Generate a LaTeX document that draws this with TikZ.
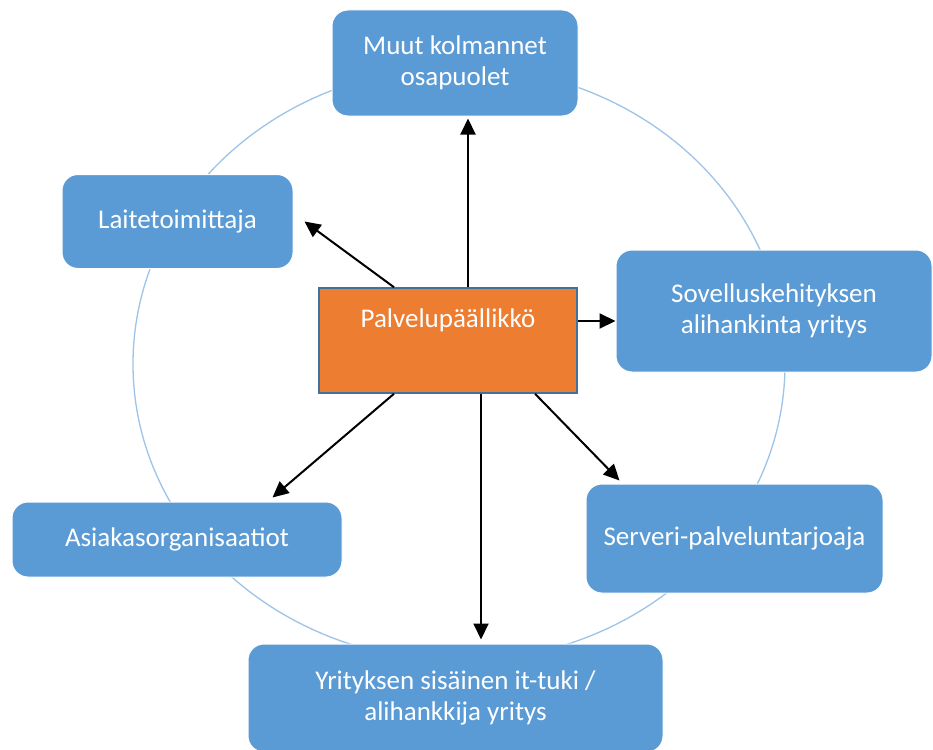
\documentclass[tikz,border=0pt]{standalone}
\usepackage{fontspec}
\setmainfont{Carlito}
\usetikzlibrary{arrows.meta,calc}
\definecolor{boxblue}{HTML}{5B9BD5}
\definecolor{ringblue}{HTML}{9DC3E6}
\definecolor{pmorange}{HTML}{ED7D31}
\definecolor{pmborder}{HTML}{41719C}
\begin{document}
\begin{tikzpicture}[x=1pt,y=-1pt,
  bluebox/.style={fill=boxblue,draw=white,line width=1pt,rounded corners=16pt,
    inner sep=0pt,text=white,align=center,font=\fontsize{27}{31}\selectfont},
  arr/.style={line width=2pt,-{Triangle[length=16pt,width=15pt]}}]
\useasboundingbox (0,0) rectangle (933,749);
% ring
\draw[ringblue,line width=1.3pt] (459,364) ellipse [x radius=326,y radius=297];
% boxes
\node[bluebox,minimum width=246pt,minimum height=106pt] (top) at (455,63) {Muut kolmannet\\osapuolet};
\node[bluebox,minimum width=231pt,minimum height=94pt] (lait) at (177.5,221.5) {Laitetoimittaja};
\node[bluebox,minimum width=316pt,minimum height=122pt] (sov) at (774,311) {Sovelluskehityksen\\alihankinta yritys};
\node[bluebox,minimum width=330pt,minimum height=75pt] (asi) at (177,539.5) {Asiakasorganisaatiot};
\node[bluebox,minimum width=297pt,minimum height=109pt] (ser) at (734.5,538.5) {Serveri-palveluntarjoaja};
\node[bluebox,minimum width=415pt,minimum height=108pt] (bot) at (455.5,698) {Yrityksen sisäinen it-tuki /\\alihankkija yritys};
% central box
\node[fill=pmorange,draw=pmborder,line width=1.5pt,minimum width=258pt,minimum height=105pt,inner sep=0pt] (pm) at (448,340.5) {};
\node[text=white,font=\fontsize{27}{31}\selectfont,anchor=base] (pmt) at (448,327) {Palvelupäällikkö};
% arrows
\draw[arr] ([xshift=20pt]pm.north) -- ([xshift=20pt,yshift=-2pt]pm.north |- top.south);
\draw[arr] ([xshift=-54pt]pm.north) -- ([xshift=11pt]lait.east);
\draw[arr] ([yshift=19.5pt]pm.east) -- ([yshift=19.5pt]pm.east -| sov.west);
\draw[arr] ([xshift=-54pt]pm.south) -- ([xshift=-70pt,yshift=4pt]asi.north east);
\draw[arr] ([xshift=33pt]pm.south) -- ([xshift=33pt,yshift=4pt]pm.south |- bot.north);
\draw[arr] ([xshift=87pt]pm.south) -- ([xshift=34pt,yshift=3pt]ser.north west);
\end{tikzpicture}
\end{document}
